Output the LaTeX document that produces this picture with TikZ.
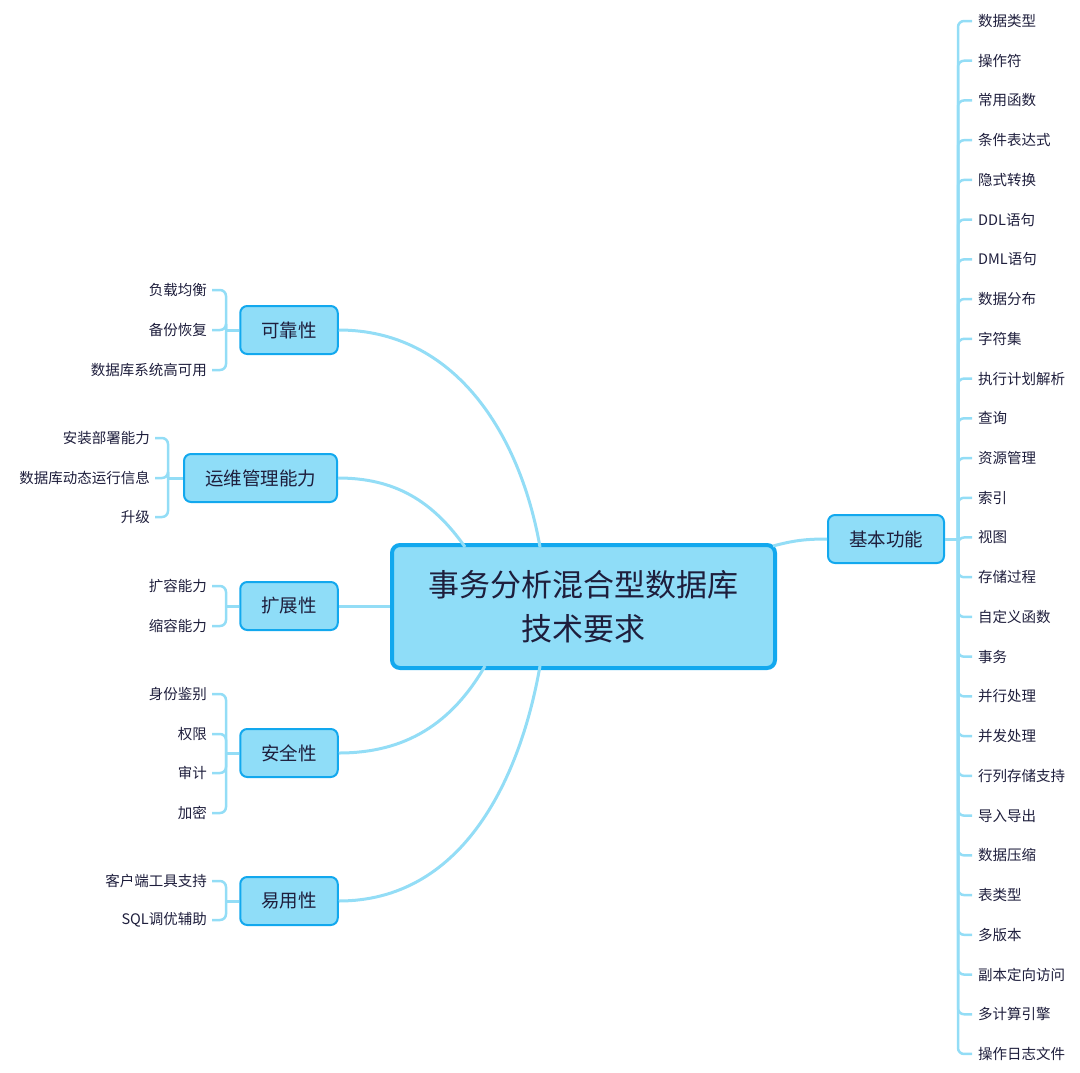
\documentclass[tikz,border=0pt]{standalone}
\usepackage{fontspec}
\setmainfont{Noto Sans CJK SC}
\definecolor{boxfill}{HTML}{8FDDF8}
\definecolor{boxline}{HTML}{12A8EE}
\definecolor{linkline}{HTML}{93DDF6}
\definecolor{ink}{HTML}{1E1E3C}
\tikzset{
  rootbox/.style={draw=boxline,fill=boxfill,line width=4pt,rounded corners=8pt,
    minimum width=383pt,minimum height=123pt,align=center,text=ink,
    font=\fontsize{31}{44}\selectfont},
  topicbox/.style={draw=boxline,fill=boxfill,line width=2pt,rounded corners=7pt,
    minimum height=48pt,inner xsep=21pt,text=ink,font=\fontsize{18.5}{22}\selectfont},
  leafl/.style={anchor=east,inner sep=0pt,text=ink,font=\fontsize{14.5}{17}\selectfont},
  leafr/.style={anchor=west,inner sep=0pt,text=ink,font=\fontsize{14.5}{17}\selectfont},
  mainlink/.style={draw=linkline,line width=3pt},
  leaflink/.style={draw=linkline,line width=2.5pt,rounded corners=6pt}
}
\begin{document}
\begin{tikzpicture}[x=1pt,y=-1pt]
\useasboundingbox (0,0) rectangle (1080,1072);

% centre
\node[rootbox] (root) at (583.5,606.5) {事务分析混合型数据库\\技术要求};

% topics
\node[topicbox] (kkx) at (289,330) {可靠性};
\node[topicbox] (ywgl) at (260.5,478) {运维管理能力};
\node[topicbox] (kzx) at (289,606) {扩展性};
\node[topicbox] (aqx) at (289,753) {安全性};
\node[topicbox] (yyx) at (289,901) {易用性};
\node[topicbox] (jbgn) at (886,539) {基本功能};

% links from the centre
\coordinate (r1) at (540,547);
\coordinate (r2) at (465,547);
\coordinate (r3) at (485,666);
\coordinate (r4) at (540,666);
\coordinate (r5) at (773,546);
\draw[mainlink] (kkx.east) to[out=0,in=100] (r1);
\draw[mainlink] (ywgl.east) to[out=0,in=125] (r2);
\draw[mainlink] (kzx.east) -- (root.west|-kzx.east);
\draw[mainlink] (aqx.east) to[out=0,in=-120] (r3);
\draw[mainlink] (yyx.east) to[out=0,in=-100] (r4);
\draw[mainlink] (r5) to[out=15,in=180] (jbgn.west);

% 可靠性
\coordinate (b1) at (226,330);
\node[leafl] (a1) at (207,290) {负载均衡};
\node[leafl] (a2) at (207,330) {备份恢复};
\node[leafl] (a3) at (207,370) {数据库系统高可用};
\draw[mainlink] (kkx.west) -- (b1);
\foreach \n in {a1,a2,a3}
  \draw[leaflink] (b1) |- ([xshift=5pt]\n.east);

% 运维管理能力
\coordinate (b2) at (168,478);
\node[leafl] (c1) at (150,438) {安装部署能力};
\node[leafl] (c2) at (150,478) {数据库动态运行信息};
\node[leafl] (c3) at (150,517) {升级};
\draw[mainlink] (ywgl.west) -- (b2);
\foreach \n in {c1,c2,c3}
  \draw[leaflink] (b2) |- ([xshift=5pt]\n.east);

% 扩展性
\coordinate (b3) at (226,606);
\node[leafl] (d1) at (207,586) {扩容能力};
\node[leafl] (d2) at (207,626) {缩容能力};
\draw[mainlink] (kzx.west) -- (b3);
\foreach \n in {d1,d2}
  \draw[leaflink] (b3) |- ([xshift=5pt]\n.east);

% 安全性
\coordinate (b4) at (226,753);
\node[leafl] (e1) at (207,694) {身份鉴别};
\node[leafl] (e2) at (207,734) {权限};
\node[leafl] (e3) at (207,773) {审计};
\node[leafl] (e4) at (207,813) {加密};
\draw[mainlink] (aqx.west) -- (b4);
\foreach \n in {e1,e2,e3,e4}
  \draw[leaflink] (b4) |- ([xshift=5pt]\n.east);

% 易用性
\coordinate (b5) at (226,901);
\node[leafl] (f1) at (207,881) {客户端工具支持};
\node[leafl] (f2) at (207,920) {SQL调优辅助};
\draw[mainlink] (yyx.west) -- (b5);
\foreach \n in {f1,f2}
  \draw[leaflink] (b5) |- ([xshift=5pt]\n.east);

% 基本功能
\coordinate (b6) at (958,539);
\draw[mainlink] (jbgn.east) -- (b6);
\foreach \t [count=\i from 0] in {数据类型,操作符,常用函数,条件表达式,隐式转换,DDL语句,DML语句,数据分布,字符集,执行计划解析,查询,资源管理,索引,视图,存储过程,自定义函数,事务,并行处理,并发处理,行列存储支持,导入导出,数据压缩,表类型,多版本,副本定向访问,多计算引擎,操作日志文件}{
  \node[leafr] (g\i) at (978,21+39.73*\i) {\t};
  \draw[leaflink] (b6) |- ([xshift=-6pt]g\i.west);
}
\end{tikzpicture}
\end{document}
